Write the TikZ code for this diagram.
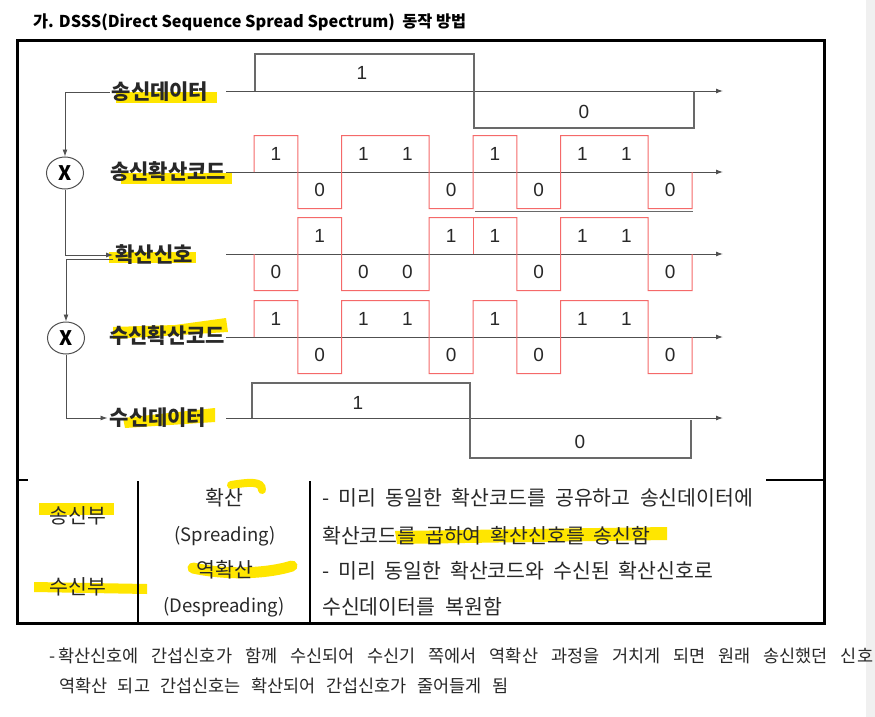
\documentclass[tikz,border=0pt]{standalone}
\usepackage{fontspec}
\setmainfont{Noto Sans CJK KR}
\newfontfamily\digitfont{Liberation Sans}
\usetikzlibrary{arrows.meta,shapes.geometric}
\definecolor{inkgrey}{RGB}{40,40,40}
\definecolor{axisgrey}{RGB}{80,80,80}
\definecolor{wavegrey}{RGB}{105,105,105}
\definecolor{chipred}{RGB}{245,105,105}
\definecolor{markyellow}{RGB}{255,230,0}
\definecolor{stripgrey}{RGB}{240,240,240}
\tikzset{
  base/.style={inner sep=2pt, text=inkgrey},
  title/.style={base, font=\bfseries\fontsize{16.3}{18}\selectfont, text=black},
  rowlabel/.style={base, font=\bfseries\fontsize{21}{23}\selectfont},
  digit/.style={base, inner sep=0pt, font=\digitfont\fontsize{19}{21}\selectfont},
  mixer/.style={ellipse, draw=axisgrey, line width=1pt, minimum width=37pt, minimum height=32pt, inner sep=0pt, font=\bfseries\fontsize{20}{20}\selectfont, text=black},
  cell/.style={base, font=\fontsize{20.5}{22}\selectfont},
  celllatin/.style={base, font=\fontsize{18.5}{20}\selectfont},
  note/.style={base, font=\fontsize{17.5}{19}\selectfont},
  axis/.style={-{Latex[length=7pt,width=5pt]}, line width=1pt, draw=axisgrey},
  flow/.style={-{Latex[length=7pt,width=5pt]}, line width=0.9pt, draw=axisgrey},
  wave/.style={line width=1.2pt, draw=wavegrey},
  chip/.style={line width=1pt, draw=chipred},
  marker/.style={fill=markyellow, draw=none},
  rule/.style={line width=1.2pt, draw=black},
}

\begin{document}
\begin{tikzpicture}[x=1pt,y=-1pt]
  \useasboundingbox (0,0) rectangle (875,717);
  \fill[white] (0,0) rectangle (875,717);
  \fill[stripgrey] (866,0) rectangle (875,717);

  % highlighter marks
  \fill[marker] (116,92) rectangle (217,103);
  \fill[marker] (121,173) rectangle (232,184);
  \fill[marker] (109,252) rectangle (196,263);
  \fill[marker] (113,327) -- (175,325) -- (226,318) -- (228,332) -- (113,339) -- cycle;
  \fill[marker] (123,418) -- (215,408) -- (215,422) -- (125,428) -- cycle;
  \fill[marker] (39,503) rectangle (114,515);
  \fill[marker] (34,582) -- (147,584) -- (147,594) -- (34,592) -- cycle;
  \draw[markyellow, line width=8pt, line cap=round] (231,485) .. controls (250,482) and (262,481) .. (262,490);
  \draw[markyellow, line width=11pt, line cap=round] (193,568) .. controls (230,576) and (270,573) .. (292,566);
  \fill[marker] (395,531) -- (667,527) -- (667,540) -- (397,544) -- cycle;

  \node[title,anchor=west] (title) at (31,22) {가. DSSS(Direct Sequence Spread Spectrum)\ \ 동작 방법};

  % frame and table rules
  \draw[line width=3pt] (17,41) rectangle (824,623);
  \draw[rule] (17,480) -- (28,480);
  \draw[rule] (766,480) -- (824,480);
  \draw[rule] (138,481) -- (138,623);
  \draw[rule] (310,481) -- (310,623);

  % row labels and mixers
  \node[rowlabel] (txd)   at (160,92)  {송신데이터};
  \node[rowlabel] (tcode) at (168,172) {송신확산코드};
  \node[rowlabel] (sig)   at (154,255) {확산신호};
  \node[rowlabel] (rcode) at (167,336) {수신확산코드};
  \node[rowlabel] (rxd)   at (158,418) {수신데이터};
  \node[mixer] (mixA) at (65,173) {X};
  \node[mixer] (mixB) at (66,338) {X};

  \draw[flow] (txd.west) -| (mixA.north);
  \draw[flow] (mixA.south) |- (sig.west);
  \draw[flow] ([yshift=-4pt]sig.west) -| (mixB.north);
  \draw[flow] (mixB.south) |- (rxd.west);

  % time axes
  \foreach \y/\nm in {91/ax1,172/ax2,254/ax3,337/ax4,418/ax5}{
    \coordinate (\nm-s) at (226,\y);
    \coordinate (\nm-e) at (723,\y);
    \draw[axis] (\nm-s) -- (\nm-e);
  }

  % data waveforms
  \draw[wave] (255,91) -- (255,54) -- (474,54) -- (474,128) -- (694,128) -- (694,91);
  \node[digit] (tx1) at (362,73)  {1};
  \node[digit] (tx0) at (584,112) {0};
  \draw[wave] (252,418) -- (252,383) -- (470,383) -- (470,458) -- (691,458) -- (691,420);
  \node[digit] (rx1) at (358,403) {1};
  \node[digit] (rx0) at (580,442) {0};

  % chip waveforms
  \foreach \y/\bits [count=\r] in {172/{1,0,1,1,0,1,0,1,1,0},254/{0,1,0,0,1,1,0,1,1,0},337/{1,0,1,1,0,1,0,1,1,0}}{
    \draw[chip] (254,\y) \foreach \b [count=\i] in \bits {
      -- ({254+43.8*(\i-1)},{\y+36.5-73*\b}) -- ({254+43.8*\i},{\y+36.5-73*\b})
    } -- (692,\y);
    \foreach \b [count=\i] in \bits
      \node[digit] (bit-\r-\i) at ({254+43.8*(\i-0.5)},{\y+18-36*\b}) {\b};
  }
  \draw[chip] (473,218) -- (473,254);
  \draw[wave, line width=1pt] (475,211) -- (693,211);

  % table
  \node[cell] (txpart)  at (78,516) {송신부};
  \node[cell] (rxpart)  at (78,587) {수신부};
  \node[cell] (spr)     at (224,498) {확산};
  \node[celllatin] (spren)   at (225,536) {(Spreading)};
  \node[cell] (dspr)    at (225,570) {역확산};
  \node[celllatin] (dspren)  at (224,607) {(Despreading)};
  \node[cell,anchor=west] (desc1) at (320,498) {\makebox[431pt][s]{- 미리 동일한 확산코드를 공유하고 송신데이터에}};
  \node[cell,anchor=west] (desc2) at (320,536) {\makebox[328pt][s]{확산코드를 곱하여 확산신호를 송신함}};
  \node[cell,anchor=west] (desc3) at (320,571) {\makebox[391pt][s]{- 미리 동일한 확산코드와 수신된 확산신호로}};
  \node[cell,anchor=west] (desc4) at (320,607) {\makebox[180pt][s]{수신데이터를 복원함}};

  % notes below
  \node[note,anchor=west] (note1) at (47,656) {\makebox[824pt][s]{-\hspace{3pt}확산신호에 간섭신호가 함께 수신되어 수신기 쪽에서 역확산 과정을 거치게 되면 원래 송신했던 신호}};
  \node[note,anchor=west] (note2) at (57,686) {\makebox[449pt][s]{역확산 되고 간섭신호는 확산되어 간섭신호가 줄어들게 됨}};
\end{tikzpicture}
\end{document}
